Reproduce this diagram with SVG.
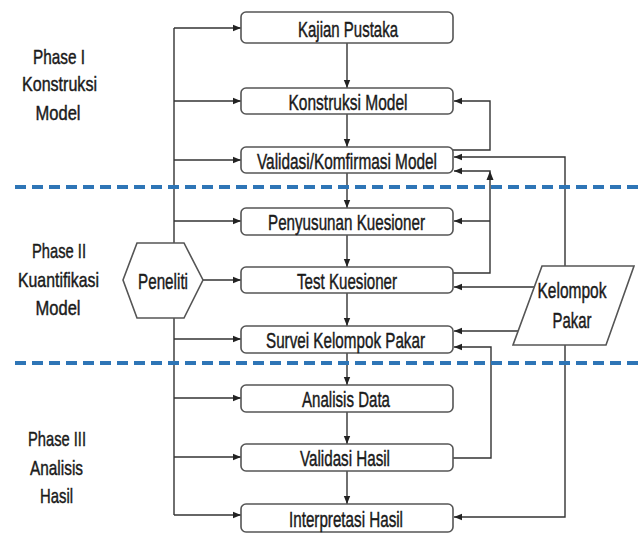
<svg xmlns="http://www.w3.org/2000/svg" width="639" height="537" viewBox="0 0 639 537">
<style>
.box{fill:#fff;stroke:#555;stroke-width:1.6}
.t{font-family:"Liberation Sans Narrow","Liberation Sans",Arial,sans-serif;font-size:22.5px;fill:#1a1a1a;stroke:#1a1a1a;stroke-width:0.45;text-anchor:middle}
.ph{font-family:"Liberation Sans Narrow","Liberation Sans",Arial,sans-serif;font-size:21px;fill:#1a1a1a;stroke:#1a1a1a;stroke-width:0.45;text-anchor:middle}
.c{fill:none;stroke:#333;stroke-width:1.4}
.dash{stroke:#2E75B6;stroke-width:4;stroke-dasharray:11 6;fill:none}
</style>
<defs>
<marker id="ah" markerUnits="userSpaceOnUse" markerWidth="8" markerHeight="8" refX="8" refY="4" orient="auto">
<path d="M0,0.8 L8,4 L0,7.2 z" fill="#222"/>
</marker>
</defs>
<g id="phase-labels">
<text class="ph" x="59" y="64" textLength="52" lengthAdjust="spacingAndGlyphs">Phase I</text>
<text class="ph" x="59.5" y="91" textLength="75" lengthAdjust="spacingAndGlyphs">Konstruksi</text>
<text class="ph" x="58" y="120" textLength="45" lengthAdjust="spacingAndGlyphs">Model</text>
<text class="ph" x="59" y="258" textLength="54" lengthAdjust="spacingAndGlyphs">Phase II</text>
<text class="ph" x="58.5" y="287" textLength="81" lengthAdjust="spacingAndGlyphs">Kuantifikasi</text>
<text class="ph" x="58" y="315" textLength="45" lengthAdjust="spacingAndGlyphs">Model</text>
<text class="ph" x="57" y="446" textLength="58" lengthAdjust="spacingAndGlyphs">Phase III</text>
<text class="ph" x="56.5" y="475" textLength="53" lengthAdjust="spacingAndGlyphs">Analisis</text>
<text class="ph" x="56.5" y="503" textLength="33" lengthAdjust="spacingAndGlyphs">Hasil</text>
</g>
<g id="connectors">
<path class="c" d="M174,28 V515"/>
<path class="c" marker-end="url(#ah)" d="M174,28 H241"/>
<path class="c" marker-end="url(#ah)" d="M174,101 H241"/>
<path class="c" marker-end="url(#ah)" d="M174,160 H241"/>
<path class="c" marker-end="url(#ah)" d="M174,221 H241"/>
<path class="c" marker-end="url(#ah)" d="M203,280 H241"/>
<path class="c" marker-end="url(#ah)" d="M174,339 H241"/>
<path class="c" marker-end="url(#ah)" d="M174,398 H241"/>
<path class="c" marker-end="url(#ah)" d="M174,457 H241"/>
<path class="c" marker-end="url(#ah)" d="M174,515 H241"/>
<path class="c" marker-end="url(#ah)" d="M347,43 V88"/>
<path class="c" marker-end="url(#ah)" d="M347,114 V147"/>
<path class="c" marker-end="url(#ah)" d="M347,173 V208"/>
<path class="c" marker-end="url(#ah)" d="M347,235 V267"/>
<path class="c" marker-end="url(#ah)" d="M347,293 V326"/>
<path class="c" marker-end="url(#ah)" d="M347,353 V385"/>
<path class="c" marker-end="url(#ah)" d="M347,412 V444"/>
<path class="c" marker-end="url(#ah)" d="M347,471 V504"/>
<path class="c" marker-end="url(#ah)" d="M453,150 H490 V101 H454"/>
<path class="c" marker-end="url(#ah)" d="M565,266 V157 H454"/>
<path class="c" marker-end="url(#ah)" d="M453,273 H490 V171 H454"/>
<path d="M486.5,180 L490,171 L493.5,180 z" fill="#222"/>
<path class="c" marker-end="url(#ah)" d="M490,221 H454"/>
<path class="c" marker-end="url(#ah)" d="M534,287 H454"/>
<path class="c" marker-end="url(#ah)" d="M518,331 H454"/>
<path class="c" marker-end="url(#ah)" d="M453,458 H491 V347 H454"/>
<path class="c" marker-end="url(#ah)" d="M565,345 V517 H454"/>
</g>
<g id="dividers">
<path class="dash" d="M15,187 H639"/>
<path class="dash" d="M15,363 H639"/>
</g>
<g id="kajian-pustaka"><rect class="box" x="241" y="12" width="212" height="31" rx="5"/><text class="t" x="348" y="36.5" textLength="100" lengthAdjust="spacingAndGlyphs">Kajian Pustaka</text></g>
<g id="konstruksi-model"><rect class="box" x="241" y="88" width="212" height="26" rx="5"/><text class="t" x="348" y="109.5" textLength="119" lengthAdjust="spacingAndGlyphs">Konstruksi Model</text></g>
<g id="validasi-model"><rect class="box" x="241" y="147" width="212" height="26" rx="5"/><text class="t" x="347" y="168.5" textLength="180" lengthAdjust="spacingAndGlyphs">Validasi/Komfirmasi Model</text></g>
<g id="penyusunan-kuesioner"><rect class="box" x="241" y="208" width="212" height="27" rx="5"/><text class="t" x="346.5" y="230" textLength="157" lengthAdjust="spacingAndGlyphs">Penyusunan Kuesioner</text></g>
<g id="test-kuesioner"><rect class="box" x="241" y="267" width="212" height="26" rx="5"/><text class="t" x="347" y="289" textLength="100" lengthAdjust="spacingAndGlyphs">Test Kuesioner</text></g>
<g id="survei-kelompok-pakar"><rect class="box" x="241" y="326" width="212" height="27" rx="5"/><text class="t" x="345.5" y="348" textLength="159" lengthAdjust="spacingAndGlyphs">Survei Kelompok Pakar</text></g>
<g id="analisis-data"><rect class="box" x="241" y="385" width="212" height="27" rx="5"/><text class="t" x="346" y="407" textLength="88" lengthAdjust="spacingAndGlyphs">Analisis Data</text></g>
<g id="validasi-hasil"><rect class="box" x="241" y="444" width="212" height="27" rx="5"/><text class="t" x="345" y="466" textLength="90" lengthAdjust="spacingAndGlyphs">Validasi Hasil</text></g>
<g id="interpretasi-hasil"><rect class="box" x="241" y="504" width="212" height="28" rx="5"/><text class="t" x="346" y="526.5" textLength="114" lengthAdjust="spacingAndGlyphs">Interpretasi Hasil</text></g>
<g id="peneliti"><polygon class="box" points="123,280 137,243 184,243 203,280 184,318 137,318"/><text class="t" x="163" y="288.5" textLength="50" lengthAdjust="spacingAndGlyphs">Peneliti</text></g>
<g id="kelompok-pakar"><polygon class="box" points="542,266 634,266 606,345 513,345"/><text class="t" x="572" y="298" textLength="69" lengthAdjust="spacingAndGlyphs">Kelompok</text><text class="t" x="572" y="328" textLength="39" lengthAdjust="spacingAndGlyphs">Pakar</text></g>
</svg>
